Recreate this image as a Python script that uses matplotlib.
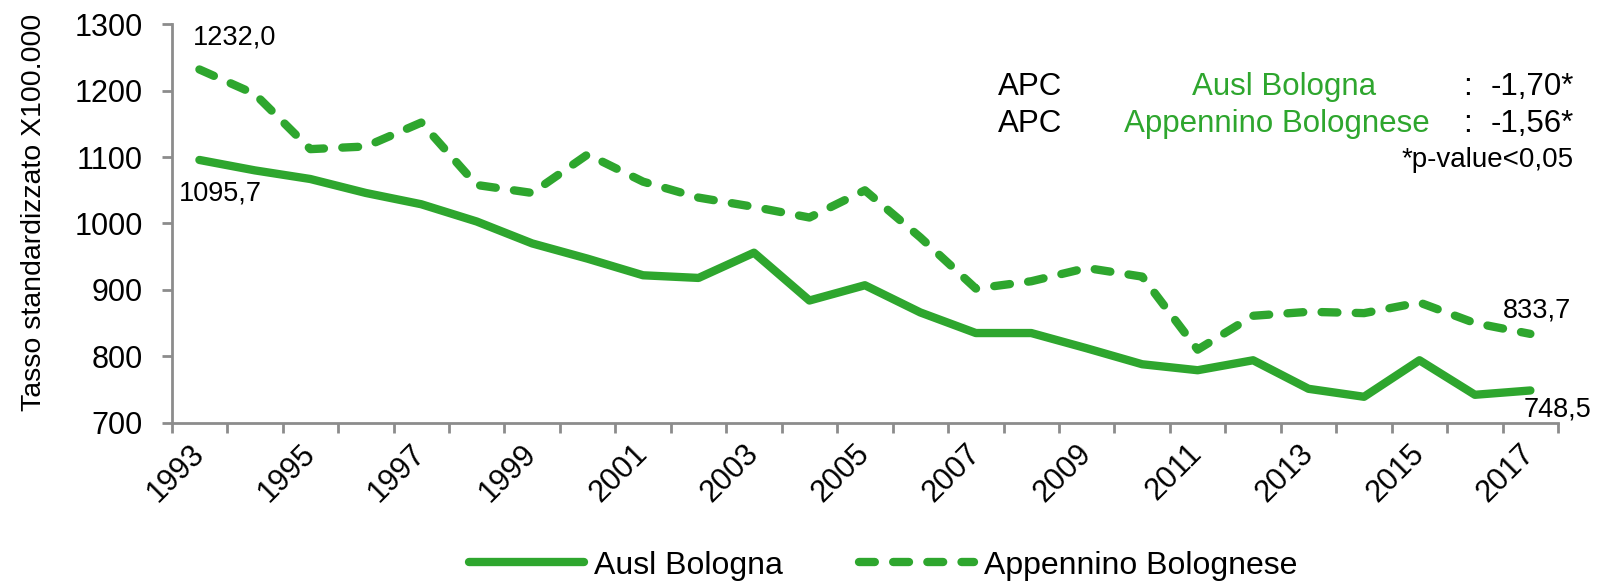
import matplotlib.pyplot as plt
import numpy as np

plt.rcParams['font.family'] = ['Liberation Sans', 'DejaVu Sans']

years = list(range(1993, 2018))
ausl = [1095.7, 1080, 1067, 1046, 1029, 1003, 970, 947, 922, 918, 956, 884, 907,
        866, 835, 835, 812, 788, 779, 794, 751, 739, 794, 742, 748.5]
appennino = [1232.0, 1195, 1112, 1116, 1152, 1058, 1046, 1104, 1063, 1039, 1025, 1009, 1050,
             979, 902, 913, 933, 920, 810, 861, 867, 865, 881, 850, 833.7]

green = '#2ea62e'
axis_grey = '#8c8c8c'

fig = plt.figure(figsize=(16.03, 5.83), dpi=100)
ax = fig.add_axes([0.1071, 0.275, 0.8649, 0.6833])

x = np.arange(len(years))
ax.plot(x, ausl, color=green, lw=6, solid_joinstyle='round', solid_capstyle='round',
        label='Ausl Bologna')
ax.plot(x, appennino, color=green, lw=6, dashes=(1.9, 2.2), dash_capstyle='round',
        dash_joinstyle='round', label='Appennino Bolognese')

ax.set_xlim(-0.5, len(years) - 0.5)
ax.set_ylim(700, 1300)
ax.set_yticks(range(700, 1301, 100))
ax.set_xticks(x[::2])
ax.set_xticklabels([str(y) for y in years[::2]], rotation=45, ha='right', va='center',
                   rotation_mode='anchor')
ax.set_xticks(np.arange(-0.5, len(years), 1), minor=True)
ax.tick_params(axis='x', which='major', length=0, labelsize=22, pad=19)
ax.tick_params(axis='x', which='minor', length=7, width=2, color=axis_grey)
ax.tick_params(axis='y', length=7, width=2, color=axis_grey, labelsize=22, pad=14)
ax.set_ylabel('Tasso standardizzato X100.000', fontsize=20.5)
ax.yaxis.set_label_coords(-0.09, 0.528)

for side in ['top', 'right']:
    ax.spines[side].set_visible(False)
for side in ['left', 'bottom']:
    ax.spines[side].set_color(axis_grey)
    ax.spines[side].set_linewidth(2)

# data labels at the ends
lab = dict(fontsize=19.5, textcoords='offset points', va='center', ha='left')
ax.annotate('1232,0', (x[0], appennino[0]), xytext=(-5, 23), **lab)
ax.annotate('1095,7', (x[0], ausl[0]), xytext=(-15, -24), **lab)
ax.annotate('833,7', (x[-1], appennino[-1]), xytext=(-20, 17), **lab)
ax.annotate('748,5', (x[-1], ausl[-1]), xytext=(-5, -14), **lab)

# APC box
fs = 22.5
fig.text(998 / 1603, 1 - 87 / 583, 'APC', fontsize=fs, va='center', ha='left')
fig.text(998 / 1603, 1 - 124 / 583, 'APC', fontsize=fs, va='center', ha='left')
fig.text(1284 / 1603, 1 - 87 / 583, 'Ausl Bologna', fontsize=fs, va='center', ha='center', color=green)
fig.text(1277 / 1603, 1 - 124 / 583, 'Appennino Bolognese', fontsize=fs, va='center', ha='center', color=green)
fig.text(1468 / 1603, 1 - 87 / 583, ':', fontsize=fs, va='center', ha='center')
fig.text(1468 / 1603, 1 - 124 / 583, ':', fontsize=fs, va='center', ha='center')
fig.text(1574 / 1603, 1 - 87 / 583, '-1,70*', fontsize=fs, va='center', ha='right')
fig.text(1574 / 1603, 1 - 124 / 583, '-1,56*', fontsize=fs, va='center', ha='right')
fig.text(1574 / 1603, 1 - 160 / 583, '*p-value<0,05', fontsize=20, va='center', ha='right')

fig.legend(loc='center', bbox_to_anchor=(0.551, 0.03), ncol=2, frameon=False,
           fontsize=23, handlelength=3.6, columnspacing=2.4, handletextpad=0.3)

fig.savefig('out.png', dpi=100, facecolor='white')
